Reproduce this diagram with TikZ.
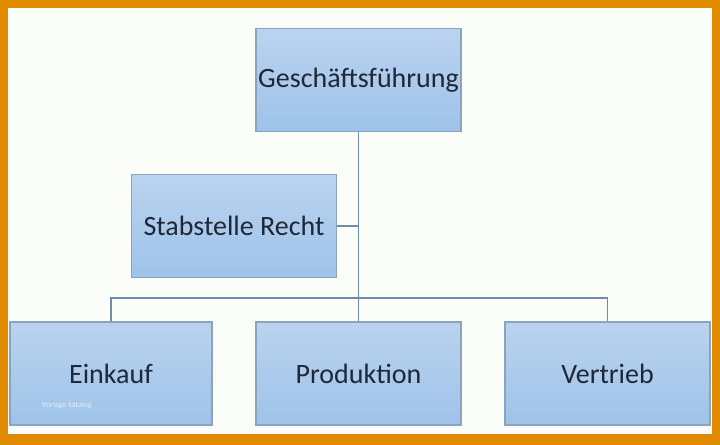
\documentclass[tikz,border=0pt]{standalone}
\usepackage{fontspec}
\setmainfont{Carlito}
\definecolor{frameorange}{HTML}{E08A00}
\definecolor{paper}{HTML}{FAFDF8}
\definecolor{boxtop}{HTML}{BAD3EF}
\definecolor{boxbottom}{HTML}{9EC3E9}
\definecolor{boxline}{HTML}{8BA3BC}
\definecolor{linkline}{HTML}{6F8CA8}
\definecolor{inktext}{HTML}{1E2838}
\begin{document}
\begin{tikzpicture}[x=0.75pt,y=-0.75pt,font=\fontsize{21}{25}\selectfont,
	orgbox/.style={draw=boxline,line width=0.9pt,top color=boxtop,bottom color=boxbottom,
		minimum width=205*0.75pt,minimum height=103*0.75pt,inner sep=0pt,text=inktext},
	link/.style={draw=linkline,line width=1.2pt}]
	\fill[frameorange] (0,0) rectangle (720,445);
	\fill[paper] (8,8) rectangle (712,434);
	\node[orgbox] (gf) at (358.5,80) {Geschäftsführung};
	\node[orgbox] (stab) at (234,226) {Stabstelle Recht};
	\node[orgbox,minimum width=202*0.75pt] (ein) at (111,373.5) {Einkauf};
	\node[orgbox] (prod) at (358.5,373.5) {Produktion};
	\node[orgbox] (ver) at (607.5,373.5) {Vertrieb};
	\node[text=white,opacity=0.7,font=\fontsize{6}{7}\selectfont] (mark) at (67,405) {Vorlage katalog};
	\coordinate (bus) at (358.5,298);
	\draw[link] (gf.south) -- (prod.north);
	\draw[link] (stab.east) -- (stab.east -| gf.south);
	\draw[link] (ein.north) |- (bus) -| (ver.north);
\end{tikzpicture}
\end{document}
